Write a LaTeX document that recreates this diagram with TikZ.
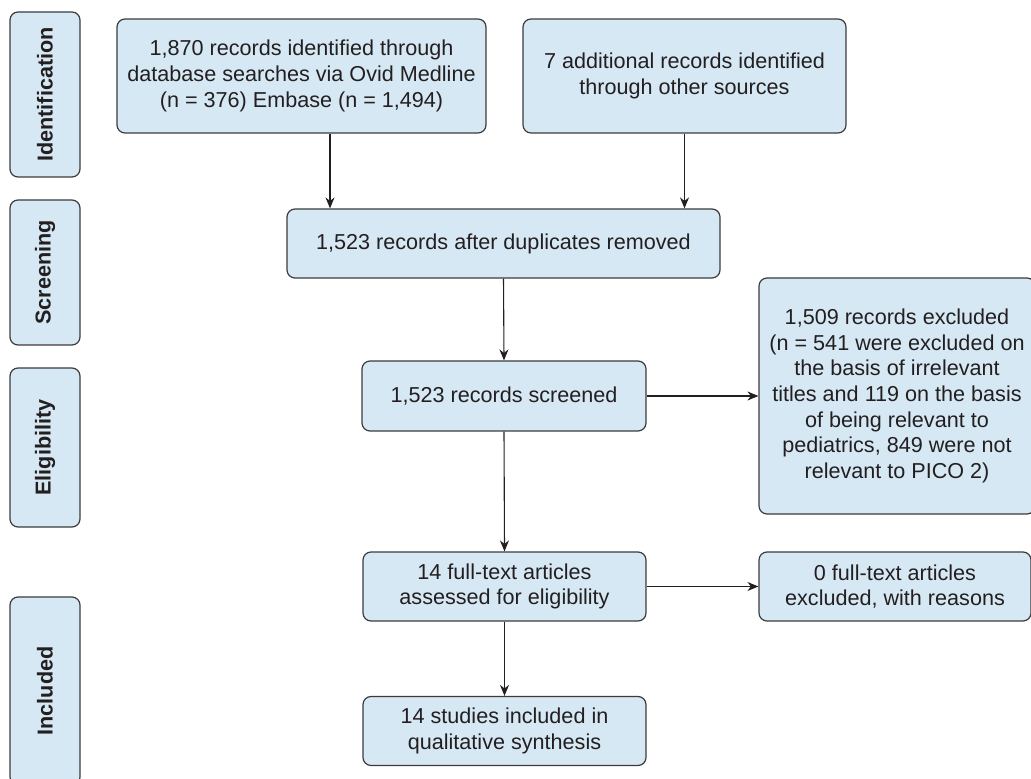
\documentclass[tikz,border=0pt]{standalone}
\usepackage{fontspec}
\setmainfont{Liberation Sans}
\definecolor{boxfill}{RGB}{214, 232, 244}
\definecolor{boxline}{RGB}{60, 60, 62}
\definecolor{inktext}{RGB}{35, 31, 32}
\usepackage{tikz}
\usetikzlibrary{arrows.meta, positioning, calc}

\begin{document}
\begin{tikzpicture}[x=0.5pt, y=-0.5pt,
    flowbox/.style={draw=boxline, fill=boxfill, line width=0.6pt, rounded corners=4pt, align=center, text=inktext, inner sep=0pt, font=\fontsize{10.8}{12.8}\selectfont},
    phasebox/.style={draw=boxline, fill=boxfill, line width=0.6pt, rounded corners=4pt, minimum width=35pt, inner sep=0pt},
    phaselabel/.style={rotate=90, text=inktext, font=\fontsize{10.8}{12.8}\selectfont\bfseries},
    arr/.style={-{Stealth[length=5.5pt, width=4.5pt]}, line width=0.55pt, draw=inktext}]
  \clip (0,0) rectangle (1031,779);

  % Phase labels on the left
  \node[phasebox, minimum height=82.5pt] (pident) at (45, 94.5) {};
  \node[phaselabel] at (pident.center) {Identification};
  \node[phasebox, minimum height=72.5pt] (pscreen) at (45, 272.5) {};
  \node[phaselabel] at (pscreen.center) {Screening};
  \node[phasebox, minimum height=79.5pt] (pelig) at (45, 447.5) {};
  \node[phaselabel] at (pelig.center) {Eligibility};
  \node[phasebox, minimum height=94pt] (pincl) at (45, 691) {};
  \node[phaselabel] at (pincl.center) {Included};

  % Identification
  \node[flowbox, minimum width=184.5pt, minimum height=57pt] (recdb) at (301.5, 76) {1,870 records identified through\\database searches via Ovid Medline\\(n = 376) Embase (n = 1,494)};
  \node[flowbox, minimum width=161.5pt, minimum height=57pt] (recother) at (684.5, 76) {7 additional records identified\\through other sources};

  % Screening
  \node[flowbox, minimum width=216.5pt, minimum height=34.5pt] (dedup) at (503.5, 243.5) {1,523 records after duplicates removed};
  \node[flowbox, minimum width=142pt, minimum height=35pt] (screened) at (504, 396) {1,523 records screened};
  \node[flowbox, minimum width=138pt, minimum height=118pt] (excluded) at (897, 396) {1,509 records excluded\\(n = 541 were excluded on\\the basis of irrelevant\\titles and 119 on the basis\\of being relevant to\\pediatrics, 849 were not\\relevant to PICO 2)};

  % Eligibility
  \node[flowbox, minimum width=141.5pt, minimum height=34.5pt] (fulltext) at (504.5, 586.5) {14 full-text articles\\assessed for eligibility};
  \node[flowbox, minimum width=136pt, minimum height=34.5pt] (ftexcl) at (895, 586.5) {0 full-text articles\\excluded, with reasons};

  % Included
  \node[flowbox, minimum width=141.5pt, minimum height=34.5pt] (studies) at (504.5, 731) {14 studies included in\\qualitative synthesis};

  % Arrows
  \draw[arr] ([xshift=14.25pt]recdb.south) -- ([xshift=14.25pt]recdb.south |- dedup.north);
  \draw[arr] (recother.south) -- (recother.south |- dedup.north);
  \draw[arr] (dedup.south) -- (screened.north);
  \draw[arr] (screened.east) -- (excluded.west);
  \draw[arr] (screened.south) -- (fulltext.north);
  \draw[arr] (fulltext.east) -- (ftexcl.west);
  \draw[arr] (fulltext.south) -- (studies.north);
\end{tikzpicture}
\end{document}
